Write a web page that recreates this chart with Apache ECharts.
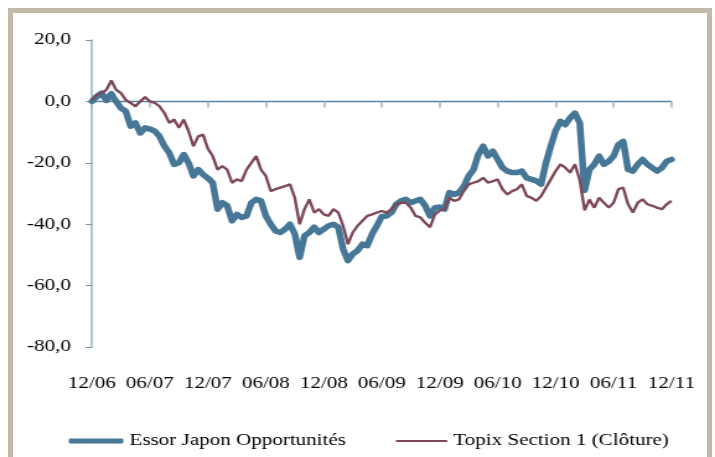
<!DOCTYPE html>
<html>
<head>
<meta charset="utf-8">
<script src="https://cdn.jsdelivr.net/npm/echarts@6/dist/echarts.min.js"></script>
<style>
  html, body { margin: 0; padding: 0; background: #fff; }
  #frame {
    position: absolute; left: 8px; top: 8px;
    width: 694px; height: 470px;
    border: 5px solid #c4b9a9; box-sizing: content-box;
  }
  /* source picture is stretched horizontally, so is this one */
  #chart {
    position: absolute; left: 0; top: 0;
    width: 577px; height: 457px;
    transform: scaleX(1.2392); transform-origin: 0 0;
  }
</style>
</head>
<body>
<div id="chart"></div>
<div id="frame"></div>
<script>
// one value every half month, 12/06 -> 12/11
const step = 0.5
const tickLabels = ['12/06', '06/07', '12/07', '06/08', '12/08', '06/09', '12/09', '06/10', '12/10', '06/11', '12/11']
const names = ['Essor Japon Opportunités', 'Topix Section 1 (Clôture)']

const essor = [
  0, 1.6, 2.7, 0.3, 2.5, 0, -2.2, -3.2, -8.1, -7.0, -10.3, -8.6,
  -9.0, -9.7, -11.4, -14.6, -16.8, -20.5, -20, -17.3, -20, -24.3, -22.2, -23.8,
  -25, -26.5, -35.1, -33, -34, -38.9, -36.8, -37.8, -37.3, -33, -31.9, -32.4,
  -37.3, -40, -42.2, -42.7, -41.6, -40, -43.2, -50.8, -43.8, -42.7, -41, -42.7,
  -41.6, -40.5, -40, -41, -48.1, -51.9, -49.7, -48.6, -46.5, -47, -43.2, -40.5,
  -37.5, -37.3, -36.2, -33.5, -32.4, -31.9, -33, -32.4, -31.9, -34, -37.3, -34.6,
  -34.4, -35.1, -29.7, -30.3, -29.7, -27.6, -24.3, -22.2, -17.3, -14.6, -17.8, -16.2,
  -18.9, -21.6, -22.7, -23.2, -23.2, -22.7, -24.9, -25.4, -25.9, -27, -20, -14.6,
  -9.5, -6.5, -7.6, -5.4, -3.8, -7, -29, -22.2, -20.5, -17.8, -20.5, -19.5,
  -17.8, -14.1, -13, -22.2, -22.7, -20.5, -18.9, -20.5, -21.6, -22.7, -21.6, -19.5,
  -18.9
]
const topix = [
  0.5, 2.2, 2.7, 3.8, 6.8, 3.8, 2.7, 0.5, -0.5, -1.6, 0, 1.4,
  0, -0.5, -1.6, -3.8, -7, -5.9, -8.6, -5.9, -9.7, -14.6, -11.4, -10.8,
  -15.4, -17.8, -22.2, -21.1, -22.2, -26.5, -25.4, -26, -22.2, -20, -17.8, -22.2,
  -24.3, -29.2, -28.6, -28.1, -27.6, -27, -31.4, -40, -35.1, -31.9, -36.2, -35.1,
  -36.8, -37.3, -35.1, -36.2, -40.5, -46.5, -42.7, -40.5, -38.9, -37.3, -36.8, -36.2,
  -35.7, -36.2, -35.1, -33.5, -33, -33, -34.6, -37.3, -37.8, -39.5, -41, -36.8,
  -35.6, -35.1, -31.4, -32.4, -31.9, -29.2, -27, -26.5, -26, -24.9, -26.5, -26,
  -25.4, -28.6, -30.3, -29.2, -28.6, -27, -30.8, -31.4, -32.4, -30.8, -28.1, -25.4,
  -22.7, -20.5, -21.6, -23.2, -20.5, -25.6, -35.5, -32, -34.6, -31.4, -33, -34.6,
  -33, -28.6, -28.1, -33.5, -36.2, -33, -31.9, -33.5, -34, -34.6, -35.1, -33.5,
  -32.4
]

const font = "'Liberation Serif', 'Times New Roman', serif"
const blue = '#477797'
const red = '#7e4858'
const pairs = arr => arr.map((v, i) => [i * step, v])

const legendText = { fontFamily: font, fontSize: 17, color: '#000', lineHeight: 20 }

const chart = echarts.init(document.getElementById('chart'))
chart.setOption({
  animation: false,
  grid: { left: 74.2, right: 35.1, top: 40, bottom: 110 },
  legend: [{
    data: [names[0]],
    left: 50.5,
    top: 426,
    icon: 'roundRect',
    itemWidth: 44,
    itemHeight: 5,
    textStyle: legendText
  }, {
    data: [names[1]],
    left: 314.5,
    top: 426,
    icon: 'rect',
    itemWidth: 41.3,
    itemHeight: 2,
    textStyle: legendText
  }],
  xAxis: [{
    type: 'value',
    min: 0,
    max: 60,
    interval: 6,
    axisLine: { onZero: true, lineStyle: { color: '#5a84a3', width: 1.3 } },
    axisTick: { length: 6, lineStyle: { color: '#9ab4c8', width: 1.5 } },
    axisLabel: { show: false },
    splitLine: { show: false }
  }, {
    type: 'value',
    position: 'bottom',
    min: 0,
    max: 60,
    interval: 6,
    axisLine: { show: false, onZero: false },
    axisTick: { show: false },
    splitLine: { show: false },
    axisLabel: {
      margin: 28,
      fontFamily: font,
      fontSize: 17,
      color: '#000',
      formatter: v => tickLabels[Math.round(v / 6)]
    }
  }],
  yAxis: {
    type: 'value',
    min: -80,
    max: 20,
    interval: 20,
    axisLine: { show: true, onZero: false, lineStyle: { color: '#93afc4', width: 1.5 } },
    axisTick: { show: true, length: 5, lineStyle: { color: '#6f93ae' } },
    splitLine: { show: false },
    axisLabel: {
      margin: 17,
      fontFamily: font,
      fontSize: 17,
      color: '#000',
      formatter: v => v.toFixed(1).replace('.', ',')
    }
  },
  series: [{
    name: names[0],
    type: 'line',
    xAxisIndex: 0,
    data: pairs(essor),
    symbol: 'none',
    lineStyle: { color: blue, width: 5.5, cap: 'round', join: 'round' },
    itemStyle: { color: blue }
  }, {
    name: names[1],
    type: 'line',
    xAxisIndex: 0,
    data: pairs(topix),
    symbol: 'none',
    lineStyle: { color: red, width: 2.4 },
    itemStyle: { color: red }
  }]
})
</script>
</body>
</html>
